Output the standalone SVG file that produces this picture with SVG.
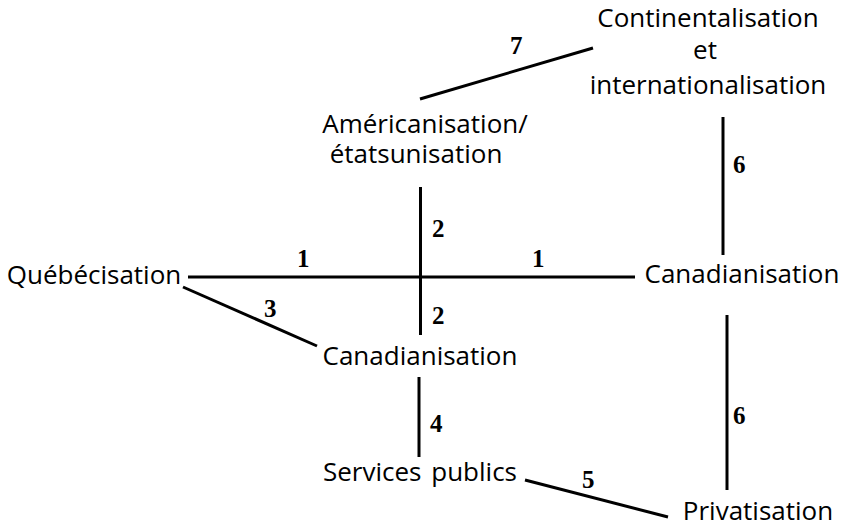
<svg xmlns="http://www.w3.org/2000/svg" width="845" height="528" viewBox="0 0 845 528">
<style>
.t{font-family:"Open Sans","Noto Sans",sans-serif;font-size:26px;fill:#000;text-anchor:middle}
.n{font-family:"Liberation Serif",serif;font-weight:bold;font-size:25px;fill:#000}
.c line{stroke:#000;stroke-width:3;fill:none}
</style>
<rect width="845" height="528" fill="#fff"/>
<g id="n-continentalisation">
<text class="t" x="708" y="27">Continentalisation</text>
<text class="t" x="705" y="59">et</text>
<text class="t" x="708" y="94">internationalisation</text>
</g>
<g id="n-americanisation">
<text class="t" x="425" y="133">Américanisation/</text>
<text class="t" x="416" y="163">étatsunisation</text>
</g>
<g id="n-quebecisation"><text class="t" x="94" y="284">Québécisation</text></g>
<g id="n-canadianisation-r"><text class="t" x="742" y="283">Canadianisation</text></g>
<g id="n-canadianisation-m"><text class="t" x="420" y="365">Canadianisation</text></g>
<g id="n-services"><text class="t" x="420" y="481" word-spacing="3">Services publics</text></g>
<g id="n-privatisation"><text class="t" x="758" y="520">Privatisation</text></g>
<g id="connectors" class="c">
<line x1="188" y1="277" x2="635" y2="277"/>
<line x1="420.5" y1="187" x2="420.5" y2="335"/>
<line x1="183" y1="287" x2="317" y2="346"/>
<line x1="419" y1="377" x2="419" y2="457"/>
<line x1="525" y1="480" x2="668" y2="517"/>
<line x1="723" y1="117" x2="723" y2="255"/>
<line x1="727" y1="315" x2="727" y2="490"/>
<line x1="420" y1="99" x2="593" y2="48"/>
</g>
<g id="labels">
<text class="n" x="510" y="54">7</text>
<text class="n" x="733" y="173">6</text>
<text class="n" x="432" y="237">2</text>
<text class="n" x="297" y="267">1</text>
<text class="n" x="532" y="267">1</text>
<text class="n" x="264" y="317">3</text>
<text class="n" x="432" y="324">2</text>
<text class="n" x="430" y="432">4</text>
<text class="n" x="582" y="488">5</text>
<text class="n" x="733" y="424">6</text>
</g>
</svg>
